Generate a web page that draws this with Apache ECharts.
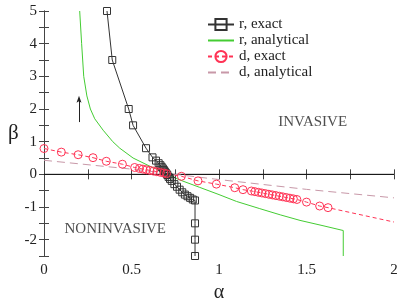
<!DOCTYPE html>
<html><head><meta charset="utf-8">
<script src="https://cdn.jsdelivr.net/npm/echarts@6/dist/echarts.min.js"></script>
<style>html,body{margin:0;padding:0;background:#fff}#c{width:415px;height:301px}</style>
</head><body><div id="c"></div>
<script>
const xTicks = [0, 0.5, 1, 1.5, 2];
const yTicks = [-2, -1, 0, 1, 2, 3, 4, 5];

const rExactAlpha = [0.36, 0.39, 0.484, 0.509, 0.583, 0.62, 0.64, 0.655, 0.665, 0.672, 0.679, 0.685, 0.69, 0.695, 0.70, 0.705, 0.712, 0.72, 0.73, 0.745, 0.76, 0.775, 0.79, 0.805, 0.82, 0.835, 0.85, 0.863, 0.863, 0.863, 0.863];
const rExactBeta  = [5, 3.5, 2.0, 1.5, 0.8, 0.52, 0.42, 0.34, 0.28, 0.23, 0.18, 0.13, 0.09, 0.05, 0.02, -0.02, -0.08, -0.14, -0.2, -0.3, -0.38, -0.47, -0.55, -0.62, -0.67, -0.72, -0.77, -0.8, -1.5, -2.0, -2.5];

const rAnaAlpha = [0.204, 0.215, 0.227, 0.245, 0.265, 0.29, 0.338, 0.393, 0.433, 0.509, 0.6, 0.70, 0.775, 0.89, 1.0, 1.1, 1.233, 1.35, 1.463, 1.6, 1.71, 1.71];
const rAnaBeta  = [5, 4, 3, 2.4, 2.0, 1.7, 1.35, 1.0, 0.8, 0.5, 0.26, 0.02, -0.17, -0.4, -0.62, -0.83, -1.05, -1.24, -1.41, -1.58, -1.72, -2.5];

const dExactAlpha = [0, 0.099, 0.195, 0.28, 0.356, 0.448, 0.518, 0.545, 0.565, 0.585, 0.605, 0.625, 0.645, 0.665, 0.685, 0.70, 0.785, 0.88, 0.985, 1.09, 1.137, 1.185, 1.205, 1.225, 1.245, 1.265, 1.285, 1.305, 1.325, 1.345, 1.365, 1.385, 1.405, 1.425, 1.445, 1.50, 1.575, 1.623];
const dExactBeta  = [0.79, 0.68, 0.60, 0.51, 0.40, 0.31, 0.21, 0.18, 0.16, 0.14, 0.12, 0.10, 0.08, 0.06, 0.04, 0.02, -0.06, -0.2, -0.30, -0.41, -0.47, -0.51, -0.53, -0.55, -0.57, -0.59, -0.61, -0.63, -0.65, -0.67, -0.69, -0.71, -0.73, -0.75, -0.77, -0.85, -0.97, -1.02];
const dExactLineEnd = [2.0, -1.46];

const dAnaAlpha = [0, 0.5, 1.0, 1.5, 2.0];
const dAnaBeta  = [0.43, 0.16, -0.16, -0.46, -0.72];

const zeroLine = [[0, 0], [2, 0]];
const arrow = [[0.2, 1.6], [0.2, 2.3]];
const annotations = [[1.535, 1.6, 'INVASIVE'], [0.407, -1.67, 'NONINVASIVE']];

const zip = (a, b) => a.map((v, i) => [v, b[i]]);
const serif = 'Liberation Serif';
const axisCol = '#444';

const dExactData = zip(dExactAlpha, dExactBeta);
dExactData.push({value: dExactLineEnd, symbol: 'none'});

const chart = echarts.init(document.getElementById('c'), null, {renderer: 'canvas'});
const baseX = {
  type: 'value', min: 0, max: 2, interval: 0.25,
  axisLine: {lineStyle: {color: axisCol, width: 1}},
  axisTick: {inside: true, length: 5, lineStyle: {color: axisCol}},
  splitLine: {show: false}
};
const baseY = {
  type: 'value', min: -2.5, max: 5, interval: 0.5,
  axisLine: {lineStyle: {color: axisCol, width: 1}},
  axisTick: {inside: true, length: 5, lineStyle: {color: axisCol}},
  splitLine: {show: false}
};
chart.setOption({
  animation: false,
  backgroundColor: '#fff',
  grid: {left: 44, right: 21, top: 11, bottom: 45, containLabel: false, outerBoundsMode: 'none'},
  legend: {
    orient: 'vertical', left: 202, top: 12, padding: 5, itemGap: 1, itemWidth: 26, itemHeight: 14,
    textStyle: {fontFamily: serif, fontSize: 15, color: '#222'},
    data: [
      {name: 'r, exact'},
      {name: 'r, analytical', itemStyle: {opacity: 0}},
      {name: 'd, exact'},
      {name: 'd, analytical', itemStyle: {opacity: 0}}
    ]
  },
  xAxis: [
    Object.assign({}, baseX, {
      position: 'bottom', name: 'α', nameLocation: 'middle', nameGap: 23,
      nameTextStyle: {fontFamily: serif, fontSize: 20, color: '#222'},
      axisLabel: {fontFamily: serif, fontSize: 15, color: '#222', margin: 7,
        formatter: v => xTicks.some(t => Math.abs(t - v) < 1e-9) ? String(v) : ''}
    }),
    Object.assign({}, baseX, {position: 'top', axisLabel: {show: false}})
  ],
  yAxis: [
    Object.assign({}, baseY, {
      position: 'left', name: 'β', nameLocation: 'middle', nameGap: 25, nameRotate: 0,
      nameTextStyle: {fontFamily: serif, fontSize: 21, color: '#222'},
      axisLabel: {fontFamily: serif, fontSize: 15, color: '#222', margin: 7,
        formatter: v => yTicks.some(t => Math.abs(t - v) < 1e-9) ? String(v) : ''}
    }),
    Object.assign({}, baseY, {position: 'right', axisLabel: {show: false}})
  ],
  series: [
    {
      name: 'zero', type: 'line', data: zeroLine, symbol: 'none', silent: true,
      lineStyle: {color: '#111', width: 1}, z: 1,
      markLine: {
        silent: true, symbol: ['none', 'path://M0,10 L3,0 L6,10 L3,8 Z'], symbolSize: [5, 7],
        label: {show: false},
        lineStyle: {color: '#222', width: 1, type: 'solid'},
        data: [[{coord: arrow[0]}, {coord: arrow[1]}]]
      }
    },
    {
      name: 'r, exact', type: 'line', data: zip(rExactAlpha, rExactBeta),
      symbol: 'rect', symbolSize: 7,
      itemStyle: {color: 'rgba(255,255,255,0)', borderColor: '#333', borderWidth: 1},
      lineStyle: {color: '#333', width: 1}
    },
    {
      name: 'r, analytical', type: 'line', data: zip(rAnaAlpha, rAnaBeta),
      symbol: 'none', itemStyle: {color: '#44cc33'},
      lineStyle: {color: '#44cc33', width: 1}
    },
    {
      name: 'd, exact', type: 'line', data: dExactData,
      symbol: 'circle', symbolSize: 8,
      itemStyle: {color: 'rgba(255,255,255,0)', borderColor: '#ff3355', borderWidth: 1},
      lineStyle: {color: '#ff3355', width: 1, type: [4, 3]}
    },
    {
      name: 'd, analytical', type: 'line', data: zip(dAnaAlpha, dAnaBeta),
      symbol: 'none', itemStyle: {color: '#c898a8'},
      lineStyle: {color: '#c898a8', width: 1, type: [8, 5]}
    },
    {
      name: 'annot', type: 'scatter', data: annotations, symbolSize: 0, silent: true,
      label: {show: true, position: [0, 0], align: 'center', verticalAlign: 'middle',
        formatter: p => p.value[2],
        fontFamily: serif, fontSize: 15, color: '#222'}
    }
  ]
});
</script></body></html>
